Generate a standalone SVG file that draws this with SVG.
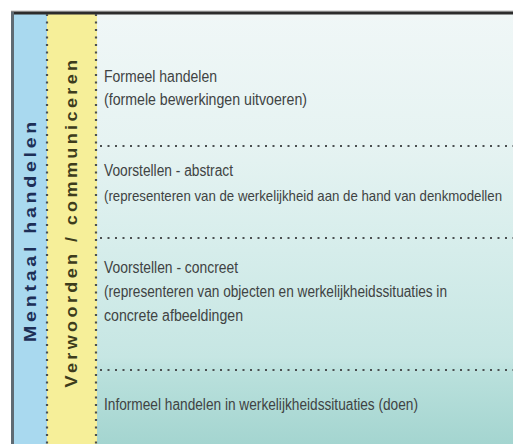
<svg xmlns="http://www.w3.org/2000/svg" width="513" height="444" viewBox="0 0 513 444">
<defs>
<linearGradient id="bg" x1="0" y1="0" x2="0" y2="1">
<stop offset="0" stop-color="#f0f7f7"/>
<stop offset="0.3" stop-color="#e6f3f2"/>
<stop offset="0.52" stop-color="#d8eeec"/>
<stop offset="0.8" stop-color="#c6e6e3"/>
<stop offset="0.84" stop-color="#b9e0dc"/>
<stop offset="1" stop-color="#a4d5d0"/>
</linearGradient>
</defs>
<style>
.t{font-family:"Liberation Sans","Open Sans",sans-serif;font-size:16px;fill:#404343}
.v{font-family:"Liberation Sans","Open Sans",sans-serif;font-size:16px;font-weight:bold;letter-spacing:3px}
.dot{stroke:#4a4f50;stroke-width:2.2;stroke-dasharray:2 5.5;fill:none}
</style>
<rect x="0" y="0" width="513" height="444" fill="#ffffff"/>
<g id="content-bg"><rect x="96" y="12" width="417" height="432" fill="url(#bg)"/></g>
<g id="col-mentaal">
<rect x="13" y="12" width="34" height="432" fill="#a9d9ef"/>
<text class="v" transform="translate(36,230) rotate(-90)" text-anchor="middle" fill="#1d2f57" textLength="224" lengthAdjust="spacingAndGlyphs">Mentaal handelen</text>
</g>
<g id="col-verwoorden">
<rect x="47" y="12" width="50" height="432" fill="#f6ef99"/>
<text class="v" transform="translate(77,222) rotate(-90)" text-anchor="middle" fill="#3d3c1c" letter-spacing="2" textLength="331" lengthAdjust="spacingAndGlyphs">Verwoorden / communiceren</text>
</g>
<g id="border">
<line x1="11" y1="11" x2="513" y2="11" stroke="#bbbbbb" stroke-width="1"/>
<line x1="11" y1="13" x2="513" y2="13" stroke="#2c2c2c" stroke-width="3"/>
<line x1="12.5" y1="12" x2="12.5" y2="444" stroke="#5f6b73" stroke-width="3"/>
</g>
<g id="connectors">
<line class="dot" x1="47" y1="14" x2="47" y2="444"/>
<line class="dot" x1="96" y1="14" x2="96" y2="444"/>
<line class="dot" x1="100" y1="146" x2="513" y2="146"/>
<line class="dot" x1="100" y1="238" x2="513" y2="238"/>
<line class="dot" x1="100" y1="370" x2="513" y2="370"/>
</g>
<g id="n-formeel">
<text class="t" x="104" y="82" textLength="113" lengthAdjust="spacingAndGlyphs">Formeel handelen</text>
<text class="t" x="104" y="105" textLength="203" lengthAdjust="spacingAndGlyphs">(formele bewerkingen uitvoeren)</text>
</g>
<g id="n-abstract">
<text class="t" x="104" y="176" textLength="129" lengthAdjust="spacingAndGlyphs">Voorstellen - abstract</text>
<text class="t" transform="translate(104,201) scale(1,1.15)" x="0" y="0" style="font-size:13.5px" textLength="398" lengthAdjust="spacingAndGlyphs">(representeren van de werkelijkheid aan de hand van denkmodellen</text>
</g>
<g id="n-concreet">
<text class="t" x="104" y="273" textLength="134" lengthAdjust="spacingAndGlyphs">Voorstellen - concreet</text>
<text class="t" x="104" y="297" textLength="343" lengthAdjust="spacingAndGlyphs">(representeren van objecten en werkelijkheidssituaties in</text>
<text class="t" x="104" y="321" textLength="139" lengthAdjust="spacingAndGlyphs">concrete afbeeldingen</text>
</g>
<g id="n-informeel">
<text class="t" x="104" y="410" textLength="314" lengthAdjust="spacingAndGlyphs">Informeel handelen in werkelijkheidssituaties (doen)</text>
</g>
</svg>
